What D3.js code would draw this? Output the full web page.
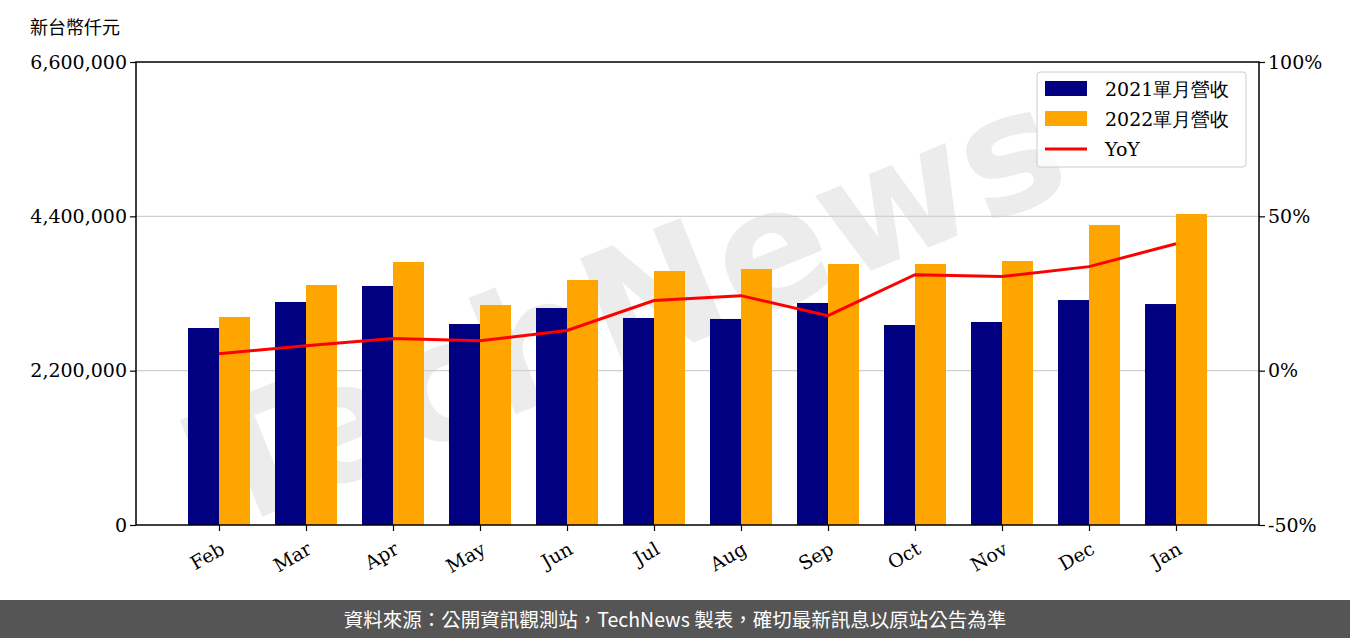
<!DOCTYPE html>
<html><head><meta charset="utf-8">
<script src="https://cdn.jsdelivr.net/npm/d3@7/dist/d3.min.js"></script>
<style>body{margin:0;background:#fff}svg{display:block}</style>
</head><body>
<script>
const months=["Feb","Mar","Apr","May","Jun","Jul","Aug","Sep","Oct","Nov","Dec","Jan"];
const rev2021=[2808000,3179000,3407000,2865000,3093000,2951000,2937000,3165000,2851000,2894000,3207000,3150000];
const rev2022=[2965000,3421000,3749000,3136000,3493000,3621000,3649000,3721000,3721000,3763000,4277000,4433000];
const yoy=[5.5,8.1,10.4,9.7,13.0,22.7,24.3,17.8,31.1,30.5,33.7,41.1];
const leftTicks=[0,2200000,4400000,6600000];
const rightTicks=[-50,0,50,100];

const W=1350,H=638,L=136,R=1259,T=62,B=525;
const svg=d3.select("body").append("svg").attr("width",W).attr("height",H);
const serif="'DejaVu Serif', serif";
// watermark
svg.append("text").attr("x",650).attr("y",360).attr("text-anchor","middle")
 .attr("transform","rotate(-22,650,360)").attr("font-family","'DejaVu Sans',sans-serif")
 .attr("font-weight","bold").attr("font-size",165).attr("fill","#ececec").text("TechNews");
const x=d3.scalePoint().domain(months).range([L,R]).padding(0.954);
const y=d3.scaleLinear().domain([0,6600000]).range([B,T]);
const y2=d3.scaleLinear().domain([-50,100]).range([B,T]);
const bw=31;
svg.selectAll(".g").data([2200000,4400000]).enter().append("line")
 .attr("x1",L).attr("x2",R).attr("y1",d=>y(d)).attr("y2",d=>y(d)).attr("stroke","#d0d0d0").attr("stroke-width",1.3);
svg.selectAll(".b1").data(months).enter().append("rect").attr("x",d=>x(d)-bw).attr("width",bw)
 .attr("y",(d,i)=>y(rev2021[i])).attr("height",(d,i)=>B-y(rev2021[i])).attr("fill","#000080");
svg.selectAll(".b2").data(months).enter().append("rect").attr("x",d=>x(d)).attr("width",bw)
 .attr("y",(d,i)=>y(rev2022[i])).attr("height",(d,i)=>B-y(rev2022[i])).attr("fill","#ffa500");
svg.append("path").datum(yoy).attr("fill","none").attr("stroke","#ff0000").attr("stroke-width",3)
 .attr("d",d3.line().x((d,i)=>x(months[i])).y(d=>y2(d)));
svg.append("rect").attr("x",L).attr("y",T).attr("width",R-L).attr("height",B-T).attr("fill","none").attr("stroke","#000").attr("stroke-width",1.5);
const ax=svg.append("g").attr("transform",`translate(${L},0)`).call(d3.axisLeft(y).tickValues(leftTicks).tickFormat(d3.format(",")).tickSizeOuter(0));
const ax2=svg.append("g").attr("transform",`translate(${R},0)`).call(d3.axisRight(y2).tickValues(rightTicks).tickFormat(d=>d+"%").tickSizeOuter(0));
const axb=svg.append("g").attr("transform",`translate(0,${B})`).call(d3.axisBottom(x).tickSizeOuter(0));
[ax,ax2,axb].forEach(a=>{a.select(".domain").remove();a.selectAll("text").attr("font-family",serif).attr("font-size",19).attr("fill","#000");a.selectAll("line").attr("stroke","#000").attr("stroke-width",1.2);});
ax.selectAll("line").attr("x2",-6);ax2.selectAll("line").attr("x2",6);
axb.selectAll("text").attr("text-anchor","end").attr("dy","0").attr("transform","translate(2,20) rotate(-30)");
svg.append("text").attr("x",30).attr("y",34).attr("font-family","'Noto Sans CJK TC',sans-serif").attr("font-size",18).text("新台幣仟元");
const lg=svg.append("g").attr("transform","translate(1037,72)");
lg.append("rect").attr("width",209).attr("height",95).attr("rx",3).attr("fill","#fff").attr("fill-opacity",0.8).attr("stroke","#ccc");
const items=[["2021單月營收","#000080","rect"],["2022單月營收","#ffa500","rect"],["YoY","#ff0000","line"]];
items.forEach((it,i)=>{const cy=17+i*30;
 if(it[2]==="rect")lg.append("rect").attr("x",8).attr("y",cy-8).attr("width",42).attr("height",15).attr("fill",it[1]);
 else lg.append("line").attr("x1",8).attr("x2",50).attr("y1",cy).attr("y2",cy).attr("stroke",it[1]).attr("stroke-width",3);
 lg.append("text").attr("x",68).attr("y",cy+7).attr("font-family",serif).attr("font-size",19).text(it[0]);});
svg.append("rect").attr("x",0).attr("y",600).attr("width",W).attr("height",38).attr("fill","#555");
svg.append("text").attr("x",W/2).attr("y",627).attr("text-anchor","middle").attr("fill","#fff")
 .attr("font-family","'Noto Sans CJK TC',sans-serif").attr("font-size",19.5).text("資料來源：公開資訊觀測站，TechNews 製表，確切最新訊息以原站公告為準");
</script>
</body></html>
